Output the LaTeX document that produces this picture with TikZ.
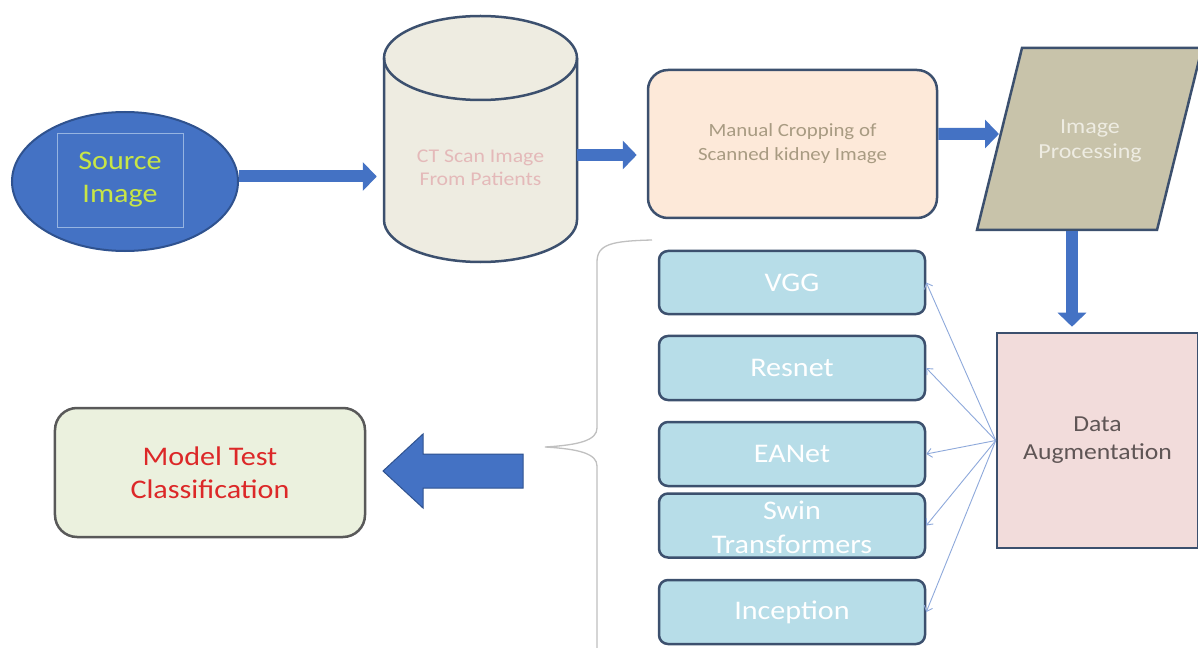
\documentclass[tikz,border=0pt]{standalone}
\usepackage{fontspec}
\setmainfont{Carlito}[FakeStretch=1.12]
\usetikzlibrary{shapes.geometric,arrows.meta,calc}
\definecolor{srcfill}{RGB}{68,114,196}
\definecolor{srcdraw}{RGB}{47,82,143}
\definecolor{srctext}{RGB}{200,230,70}
\definecolor{srcin}{RGB}{150,180,225}
\definecolor{cylfill}{RGB}{238,236,225}
\definecolor{darkline}{RGB}{60,80,110}
\definecolor{cyltext}{RGB}{228,185,185}
\definecolor{mcfill}{RGB}{253,233,217}
\definecolor{mctext}{RGB}{168,155,130}
\definecolor{ipfill}{RGB}{200,195,170}
\definecolor{iptext}{RGB}{238,236,226}
\definecolor{dafill}{RGB}{242,220,219}
\definecolor{datext}{RGB}{95,85,85}
\definecolor{mfill}{RGB}{183,221,232}
\definecolor{mtfill}{RGB}{235,241,222}
\definecolor{mtdraw}{RGB}{89,89,89}
\definecolor{mttext}{RGB}{220,40,40}
\definecolor{arrowblue}{RGB}{68,114,196}
\definecolor{arrowdark}{RGB}{47,82,143}
\definecolor{thinblue}{RGB}{142,169,219}
\definecolor{bracegray}{RGB}{192,192,192}
\begin{document}
\begin{tikzpicture}[x=1bp,y=-1bp,
  barrow/.style={draw=arrowblue, line width=12bp, -{Triangle[length=14bp,width=28bp]}},
  thinarr/.style={draw=thinblue, line width=0.9bp, -{Straight Barb[length=5bp,width=9bp]}},
  mbox/.style={draw=darkline, fill=mfill, line width=2.5bp, rounded corners=9bp,
    minimum width=266bp, inner sep=0pt, text=white, font=\fontsize{27}{34}\selectfont, align=center},
  mtext/.style={text=white, font=\fontsize{27}{34}\selectfont, align=center, inner sep=0pt}
]
\useasboundingbox (0,0) rectangle (1198,648);
\fill[white] (0,0) rectangle (1198,648);

% Source image
\node[ellipse, draw=srcdraw, fill=srcfill, line width=2bp, minimum width=226bp, minimum height=139bp, inner sep=0pt] (src) at (125,181.5) {};
\node[draw=srcin, line width=0.8bp, minimum width=126bp, minimum height=94bp, inner sep=0pt, text=srctext, align=center, font=\fontsize{27}{33}\selectfont] (srcbox) at (120,180) {Source\\Image};

% Cylinder
\fill[cylfill] (384,58) -- (384,220) arc[start angle=180,end angle=360,x radius=96.5bp,y radius=42bp] -- (577,58) arc[start angle=0,end angle=180,x radius=96.5bp,y radius=42bp] -- cycle;
\draw[darkline, line width=2.5bp] (384,58) -- (384,220) arc[start angle=180,end angle=360,x radius=96.5bp,y radius=42bp] -- (577,58);
\draw[darkline, line width=2.5bp] (480.5,58) ellipse[x radius=96.5bp,y radius=42bp];
\node[minimum width=193bp, minimum height=246bp, inner sep=0pt] (cyl) at (480.5,139) {};
\node[text=cyltext, align=center, font=\fontsize{19.5}{23}\selectfont] (cyltxt) at (480.5,168) {CT Scan Image\\From Patients};

% Manual cropping
\node[draw=darkline, fill=mcfill, line width=2.5bp, rounded corners=20bp, minimum width=289bp, minimum height=148bp, inner sep=0pt, text=mctext, align=center, font=\fontsize{18.7}{24}\selectfont] (mc) at (792.5,144) {Manual Cropping of\\Scanned kidney Image};

% Image processing
\draw[darkline, fill=ipfill, line width=2.5bp] (1022,48) -- (1202,48) -- (1157,230) -- (977,230) -- cycle;
\node[text=iptext, align=center, font=\fontsize{21.5}{26}\selectfont] (ip) at (1090,141) {Image\\Processing};
\coordinate (ipin) at (999,134);
\coordinate (ipbot) at (1072,231);

% Data augmentation
\node[draw=darkline, fill=dafill, line width=2.5bp, minimum width=201bp, minimum height=215bp, inner sep=0pt, text=datext, align=center, font=\fontsize{23}{28}\selectfont] (da) at (1097.5,440.5) {Data\\Augmentation};

% Model boxes
\node[mbox, minimum height=63bp] (vgg) at (792,282.5) {VGG};
\node[mbox, minimum height=64bp] (resnet) at (792,368) {Resnet};
\node[mbox, minimum height=64bp] (eanet) at (792,454) {EANet};
\node[mbox, minimum height=64bp] (swin) at (792,525.5) {};
\node[mtext] (swintxt) at (792,527) {Swin\\Transformers};
\node[mbox, minimum height=64bp] (incep) at (792,612) {Inception};

% Model test
\node[draw=mtdraw, fill=mtfill, line width=2.5bp, rounded corners=22bp, minimum width=310bp, minimum height=129bp, inner sep=0pt, text=mttext, align=center, font=\fontsize{27}{33}\selectfont] (mt) at (210,472.5) {Model Test\\Classification};

% Block arrows
\draw[barrow, shorten >=7bp] ([yshift=5bp]src.east) -- ([yshift=5bp]src.east -| cyl.west);
\draw[barrow, shorten >=10bp] ([yshift=-11bp]mc.west -| cyl.east) -- ([yshift=-11bp]mc.west);
\draw[barrow] ([yshift=10bp]mc.east) -- (ipin);
\draw[barrow, shorten >=5bp] (ipbot) -- (ipbot |- da.north);

% Thin arrows
\foreach \t in {vgg,resnet,eanet,swin,incep}{
  \draw[thinarr] (da.west) -- (\t.east);
}

% Brace
\draw[bracegray, line width=1.3bp] (652,240) .. controls (612,241) and (597,244) .. (597,262) -- (597,428) .. controls (597,440) and (580,445) .. (545,447) .. controls (580,449) and (597,454) .. (597,466) -- (597,648);

% Big left arrow
\filldraw[fill=arrowblue, draw=arrowdark, line width=1bp] (523,454) -- (423,454) -- (423,434) -- (383,471) -- (423,508) -- (423,488) -- (523,488) -- cycle;
\end{tikzpicture}
\end{document}
